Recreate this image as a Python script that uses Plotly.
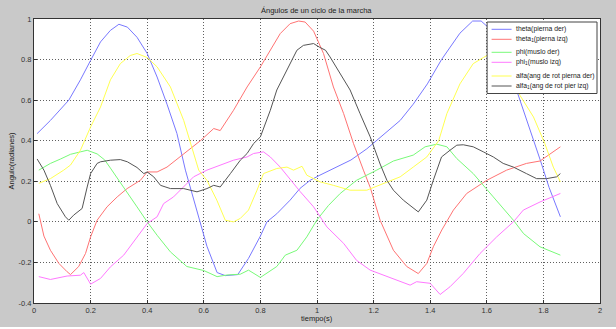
import plotly.graph_objects as go

# ---- data ----
blue_t = [0.011,0.058,0.123,0.164,0.20,0.235,0.27,0.30,0.33,0.364,0.40,0.435,0.47,0.505,0.535,0.56,0.585,0.611,0.647,0.676,0.72,0.758,0.80,0.823,0.858,0.905,0.94,0.976,1.01,1.058,1.093,1.12,1.176,1.235,1.294,1.34,1.39,1.44,1.505,1.55,1.58,1.62,1.66,1.705,1.75,1.79,1.82,1.86]
blue_v = [0.435,0.50,0.60,0.70,0.796,0.887,0.944,0.974,0.96,0.91,0.83,0.714,0.58,0.436,0.255,0.13,0.0,-0.12,-0.25,-0.265,-0.26,-0.18,-0.07,0.0,0.04,0.107,0.165,0.205,0.23,0.263,0.29,0.305,0.36,0.43,0.5,0.58,0.68,0.80,0.93,0.99,0.99,0.94,0.82,0.65,0.47,0.30,0.17,0.025]

red_t = [0.017,0.035,0.058,0.088,0.117,0.129,0.158,0.182,0.20,0.223,0.258,0.294,0.329,0.376,0.40,0.435,0.47,0.517,0.588,0.635,0.658,0.705,0.753,0.80,0.835,0.87,0.905,0.935,0.958,0.988,1.023,1.058,1.094,1.129,1.164,1.188,1.223,1.27,1.317,1.358,1.388,1.411,1.441,1.482,1.529,1.60,1.67,1.74,1.788,1.82,1.86]
red_v = [0.04,-0.07,-0.14,-0.205,-0.246,-0.26,-0.22,-0.156,-0.074,0.008,0.074,0.123,0.164,0.205,0.246,0.246,0.27,0.32,0.40,0.46,0.45,0.55,0.665,0.764,0.846,0.928,0.977,0.99,0.985,0.94,0.83,0.665,0.534,0.386,0.255,0.17,0.008,-0.14,-0.22,-0.255,-0.205,-0.123,-0.04,0.058,0.14,0.205,0.255,0.288,0.30,0.33,0.37]

green_t = [0.017,0.058,0.094,0.129,0.164,0.188,0.223,0.25,0.27,0.317,0.364,0.40,0.435,0.482,0.54,0.60,0.647,0.682,0.729,0.758,0.80,0.858,0.888,0.929,0.964,1.0,1.04,1.082,1.14,1.211,1.27,1.34,1.382,1.423,1.459,1.494,1.53,1.552,1.623,1.694,1.73,1.788,1.86]
green_v = [0.255,0.288,0.31,0.333,0.345,0.353,0.335,0.305,0.265,0.172,0.074,0.0,-0.066,-0.148,-0.22,-0.24,-0.27,-0.262,-0.258,-0.238,-0.274,-0.22,-0.164,-0.14,-0.074,0.01,0.08,0.14,0.205,0.255,0.30,0.329,0.37,0.383,0.37,0.312,0.263,0.238,0.123,0.008,-0.058,-0.123,-0.164]

mag_t = [0.017,0.058,0.117,0.164,0.176,0.20,0.235,0.27,0.317,0.364,0.40,0.435,0.458,0.493,0.529,0.564,0.611,0.658,0.705,0.753,0.776,0.811,0.835,0.87,0.94,0.988,1.035,1.094,1.14,1.188,1.247,1.294,1.329,1.352,1.40,1.435,1.47,1.517,1.576,1.635,1.694,1.729,1.788,1.86]
mag_v = [-0.27,-0.284,-0.267,-0.263,-0.25,-0.307,-0.279,-0.222,-0.164,-0.074,-0.008,0.025,0.09,0.123,0.172,0.222,0.255,0.28,0.304,0.32,0.337,0.345,0.32,0.27,0.15,0.074,-0.025,-0.106,-0.19,-0.238,-0.27,-0.295,-0.312,-0.295,-0.303,-0.358,-0.32,-0.254,-0.156,-0.074,0.0,0.058,0.098,0.14]

yel_t = [0.017,0.058,0.105,0.129,0.164,0.20,0.235,0.27,0.305,0.34,0.364,0.40,0.435,0.482,0.529,0.558,0.582,0.611,0.646,0.676,0.705,0.729,0.758,0.788,0.811,0.858,0.894,0.917,0.947,0.964,1.011,1.058,1.117,1.176,1.2,1.235,1.294,1.34,1.388,1.43,1.459,1.505,1.552,1.588,1.625,1.675,1.717,1.765,1.805,1.835,1.86]
yel_v = [0.19,0.213,0.255,0.28,0.353,0.468,0.566,0.70,0.78,0.82,0.83,0.81,0.764,0.665,0.50,0.37,0.255,0.205,0.107,0.008,0.0,0.017,0.058,0.156,0.238,0.263,0.27,0.255,0.274,0.23,0.197,0.18,0.156,0.156,0.17,0.19,0.222,0.27,0.32,0.40,0.534,0.68,0.78,0.81,0.84,0.75,0.624,0.517,0.386,0.27,0.197]

blk_t = [0.011,0.035,0.058,0.082,0.111,0.123,0.14,0.17,0.188,0.20,0.223,0.235,0.27,0.305,0.33,0.364,0.388,0.40,0.423,0.447,0.482,0.529,0.576,0.611,0.635,0.658,0.694,0.729,0.753,0.776,0.80,0.835,0.858,0.894,0.929,0.952,0.988,1.01,1.03,1.046,1.082,1.117,1.152,1.188,1.223,1.247,1.27,1.305,1.358,1.388,1.411,1.43,1.44,1.47,1.494,1.517,1.552,1.588,1.623,1.658,1.694,1.74,1.776,1.811,1.847,1.86]
blk_v = [0.31,0.255,0.18,0.09,0.025,0.008,0.033,0.066,0.172,0.238,0.288,0.296,0.304,0.307,0.296,0.268,0.238,0.246,0.222,0.18,0.164,0.164,0.148,0.164,0.18,0.172,0.238,0.304,0.337,0.386,0.419,0.55,0.65,0.747,0.846,0.87,0.879,0.86,0.846,0.813,0.73,0.65,0.534,0.419,0.285,0.205,0.156,0.107,0.049,0.107,0.205,0.28,0.32,0.353,0.378,0.38,0.37,0.345,0.32,0.288,0.27,0.238,0.213,0.213,0.222,0.238]

names = ["theta(pierna der)", "theta<sub>1</sub>(pierna izq)", "phi(muslo der)",
         "phi<sub>1</sub>(muslo izq)", "alfa(ang de rot pierna der)",
         "alfa<sub>1</sub>(ang de rot pier izq)"]
colors = ["#7878ff", "#ff7373", "#78fa78", "#ff78ff", "#ffff50", "#555555"]
series = [(blue_t, blue_v), (red_t, red_v), (green_t, green_v),
          (mag_t, mag_v), (yel_t, yel_v), (blk_t, blk_v)]

x_ticks = [0, 0.2, 0.4, 0.6, 0.8, 1, 1.2, 1.4, 1.6, 1.8, 2]
y_ticks = [-0.4, -0.2, 0, 0.2, 0.4, 0.6, 0.8, 1]

W, H = 616, 329
L, R, T, B = 33.5, 600, 19, 303
pw, ph = R - L, B - T

def px(x):
    return (x - L) / pw

def py(y):
    return (B - y) / ph

FONT = "Liberation Sans, Arial, sans-serif"
fig = go.Figure()
for (t, v), n, c in zip(series, names, colors):
    fig.add_trace(go.Scatter(x=t, y=v, mode="lines", name=n,
                             line=dict(color=c, width=1), showlegend=False))

shapes = [
    dict(type="rect", xref="paper", yref="paper", x0=px(-5), x1=px(W + 5),
         y0=py(0), y1=py(-5), fillcolor="white", line=dict(width=0), layer="above"),
    dict(type="rect", xref="paper", yref="paper", x0=px(-5), x1=px(W + 5),
         y0=py(H + 5), y1=py(327), fillcolor="white", line=dict(width=0), layer="above"),
    # legend box
    dict(type="rect", xref="paper", yref="paper", x0=px(487), x1=px(597),
         y0=py(93.5), y1=py(22), fillcolor="white",
         line=dict(color="#444444", width=1), layer="above"),
]
annotations = []
leg_y = [29.3, 39.3, 52.3, 62.3, 76, 86]
for yy, n, c in zip(leg_y, names, colors):
    shapes.append(dict(type="line", xref="paper", yref="paper", x0=px(491.5), x1=px(511.5),
                       y0=py(yy), y1=py(yy), line=dict(color=c, width=1), layer="above"))
    annotations.append(dict(xref="paper", yref="paper", x=px(513.5), y=py(yy),
                            xanchor="left", yanchor="middle", showarrow=False, text=n,
                            font=dict(size=6.8, color="#222222", family=FONT)))

annotations += [
    dict(xref="paper", yref="paper", x=px(316.5), y=py(10.5), text="Ángulos de un ciclo de la marcha",
         showarrow=False, xanchor="center", yanchor="middle",
         font=dict(size=7.5, color="#222222", family=FONT)),
    dict(xref="paper", yref="paper", x=px(316.5), y=py(318), text="tiempo(s)",
         showarrow=False, xanchor="center", yanchor="middle",
         font=dict(size=7.5, color="#222222", family=FONT)),
    dict(xref="paper", yref="paper", x=px(10), y=py(161), text="Angulo(radianes)",
         showarrow=False, xanchor="center", yanchor="middle", textangle=-90,
         font=dict(size=7.5, color="#222222", family=FONT)),
]

axis_common = dict(showgrid=True, gridcolor="#606060", gridwidth=1, griddash="1px,2px",
                   showline=True, linecolor="#333333", linewidth=1, mirror=True,
                   ticks="inside", ticklen=3, tickcolor="#333333", zeroline=False,
                   tickfont=dict(size=7.5, color="#333333", family=FONT))

fig.update_layout(
    width=W, height=H, autosize=False,
    margin=dict(l=L, r=W - R, t=T, b=H - B, pad=0),
    paper_bgcolor="#c9c9c9", plot_bgcolor="white",
    xaxis=dict(range=[0, 2], tickvals=x_ticks, ticktext=[f"{v:g}" for v in x_ticks], **axis_common),
    yaxis=dict(range=[-0.4, 1], tickvals=y_ticks, ticktext=[f"{v:g}" for v in y_ticks], **axis_common),
    shapes=shapes, annotations=annotations, showlegend=False,
    font=dict(family=FONT),
)
fig.write_html("out.html")
